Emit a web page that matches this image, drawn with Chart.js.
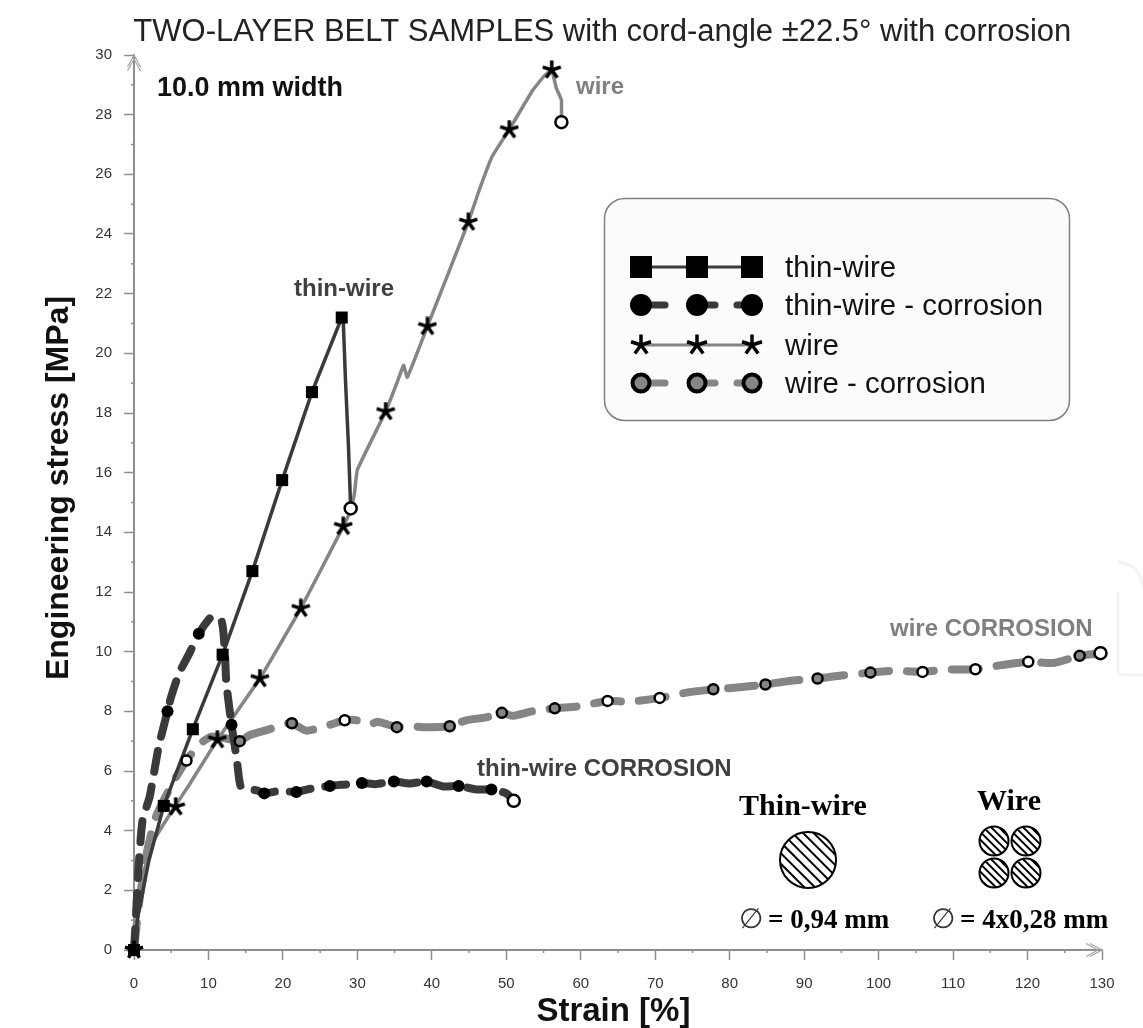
<!DOCTYPE html>
<html>
<head>
<meta charset="utf-8">
<title>Two-layer belt samples</title>
<script src="https://cdn.jsdelivr.net/npm/chart.js@4/dist/chart.umd.min.js"></script>
<style>
  html, body { margin: 0; padding: 0; background: #fff; }
  canvas { display: block; }
</style>
</head>
<body>
<canvas id="chart" width="1143" height="1028"></canvas>
<script>
// curves: strain [%] / stress [MPa]
const thinWireX = [0, 0.5, 2, 4, 7.9, 11.9, 15.9, 19.9, 23.9, 27.9, 28.1, 28.4, 28.8, 29.1];
const thinWireY = [0, 1.1, 3, 4.83, 7.4, 9.9, 12.7, 15.75, 18.7, 21.2, 21.1, 19.1, 16.9, 14.8];
const thinWireMarkX = [0, 4, 7.9, 11.9, 15.9, 19.9, 23.9, 27.9];
const thinWireMarkY = [0, 4.83, 7.4, 9.9, 12.7, 15.75, 18.7, 21.2];

const thinCorrX = [0, 0.2, 0.6, 1.15, 2.1, 3.3, 4.5, 5, 6.1, 7.45, 8.7, 10.1, 10.8, 11.8, 12.2, 12.4, 13.1, 13.8, 14.3, 15.2, 16.5, 17.5, 19.5, 21.8, 24, 26.3, 28.5, 30.6, 32.5, 34.9, 37, 39.3, 41.5, 43.6, 46, 48, 50, 51];
const thinCorrY = [0, 0.85, 2.7, 4.35, 5.13, 6.8, 8, 8.5, 9.3, 9.95, 10.6, 11.1, 11.2, 11, 10, 8.95, 7.55, 6.4, 5.5, 5.4, 5.35, 5.25, 5.33, 5.3, 5.42, 5.5, 5.55, 5.6, 5.56, 5.65, 5.58, 5.65, 5.48, 5.5, 5.38, 5.38, 5.25, 5];
const thinCorrMarkX = [0, 4.5, 8.7, 13.1, 17.5, 21.8, 26.3, 30.6, 34.9, 39.3, 43.6, 48];
const thinCorrMarkY = [0, 8, 10.6, 7.55, 5.25, 5.3, 5.5, 5.6, 5.65, 5.65, 5.5, 5.38];

const wireX = [0, 1.15, 2.5, 5.2, 7.45, 11.2, 16.9, 22.4, 28.1, 29.1, 29.6, 30, 33.8, 35.3, 36.2, 36.7, 39.4, 44.9, 46.4, 48.1, 50.4, 53.5, 55.1, 56.1, 56.7, 57.4, 57.4];
const wireY = [0, 2.45, 3.6, 4.7, 5.55, 7.05, 9.1, 11.45, 14.2, 14.75, 15.3, 16.1, 18.05, 19, 19.6, 19.2, 20.9, 24.4, 25.5, 26.6, 27.5, 28.8, 29.3, 29.5, 28.9, 28.5, 27.75];
const wireMarkX = [0, 5.6, 11.2, 16.9, 22.4, 28.1, 33.8, 39.4, 44.9, 50.4, 56.1];
const wireMarkY = [0, 4.8, 7.05, 9.1, 11.45, 14.2, 18.05, 20.9, 24.4, 27.5, 29.5];

const wireCorrX = [0, 0.75, 1.8, 3, 5.2, 7.05, 8.8, 10.4, 12.2, 14.2, 15.5, 17.8, 20, 21.2, 23.2, 26.3, 28.3, 29.9, 31.6, 32.7, 35.3, 37.3, 39, 42.4, 44.6, 47.3, 49.4, 50.8, 53.5, 56.5, 60, 63.6, 66.5, 70.6, 74, 77.8, 81, 84.8, 88, 91.8, 95, 98.9, 102, 105.9, 109, 113, 116.5, 120.1, 123.5, 127, 129.8];
const wireCorrY = [0, 1.7, 3.35, 4.5, 5.6, 6.35, 6.9, 7.15, 7.1, 7, 7.2, 7.37, 7.55, 7.6, 7.35, 7.55, 7.7, 7.7, 7.55, 7.65, 7.47, 7.5, 7.47, 7.5, 7.7, 7.8, 7.95, 7.85, 8, 8.1, 8.18, 8.35, 8.32, 8.45, 8.62, 8.74, 8.8, 8.9, 9.02, 9.1, 9.2, 9.3, 9.36, 9.32, 9.4, 9.41, 9.55, 9.66, 9.62, 9.86, 9.95];
const wireCorrMarkX = [0, 7.05, 14.2, 21.2, 28.3, 35.3, 42.4, 49.4, 56.5, 63.6, 70.6, 77.8, 84.8, 91.8, 98.9, 105.9, 113, 120.1, 127];
const wireCorrMarkY = [0, 6.35, 7, 7.6, 7.7, 7.47, 7.5, 7.95, 8.1, 8.35, 8.45, 8.74, 8.9, 9.1, 9.3, 9.32, 9.41, 9.66, 9.86];
const wireCorrOpenAt = [7.05, 28.3, 63.6, 70.6, 105.9, 113, 120.1];

// where each specimen broke (open circles)
const breakX = [29.1, 51, 57.4, 129.8];
const breakY = [14.8, 5, 27.75, 9.95];

const legendLabels = ['thin-wire', 'thin-wire - corrosion', 'wire', 'wire - corrosion'];

const zip = (xs, ys) => xs.map((x, i) => ({ x: x, y: ys[i] }));

const DARK = '#3a3a3a';
const GREY = '#858585';
const AXIS = '#8e8e8e';
const SANS = '"Liberation Sans", Arial, sans-serif';
const SERIF = '"Liberation Serif", "Times New Roman", serif';

// five armed asterisk, chart.js 'star' has eight arms
function asterisk(size, lw) {
    const c = document.createElement('canvas');
    c.width = c.height = size;
    const g = c.getContext('2d');
    g.translate(size / 2, size / 2);
    g.strokeStyle = '#000';
    g.lineWidth = lw;
    g.lineCap = 'butt';
    for (let i = 0; i < 5; i++) {
        const a = -Math.PI / 2 + i * 2 * Math.PI / 5;
        g.beginPath();
        g.moveTo(0, 0);
        g.lineTo(Math.cos(a) * (size / 2 - 0.5), Math.sin(a) * (size / 2 - 0.5));
        g.stroke();
    }
    return c;
}

function text(ctx, str, x, y, font, color, align) {
    ctx.font = font;
    ctx.fillStyle = color;
    ctx.textAlign = align || 'left';
    ctx.textBaseline = 'middle';
    ctx.fillText(str, x, y);
}

function hatchedCircle(ctx, cx, cy, r, gap) {
    ctx.save();
    ctx.beginPath();
    ctx.arc(cx, cy, r, 0, Math.PI * 2);
    ctx.clip();
    ctx.strokeStyle = '#000';
    ctx.lineWidth = 2;
    for (let d = -r * 1.5; d <= r * 1.5; d += gap / Math.SQRT2) {
        ctx.beginPath();
        ctx.moveTo(cx - r * 1.2 + d, cy - r * 1.2 - d);
        ctx.lineTo(cx + r * 1.2 + d, cy + r * 1.2 - d);
        ctx.stroke();
    }
    ctx.restore();
    ctx.beginPath();
    ctx.arc(cx, cy, r, 0, Math.PI * 2);
    ctx.strokeStyle = '#000';
    ctx.lineWidth = 2;
    ctx.stroke();
}

function legendRow(ctx, y, kind, label) {
    const xs = [641, 697, 752];
    ctx.lineCap = 'round';
    if (kind === 0 || kind === 2) {
        ctx.strokeStyle = kind === 0 ? DARK : GREY;
        ctx.lineWidth = 3;
        ctx.beginPath();
        ctx.moveTo(xs[0], y);
        ctx.lineTo(xs[2], y);
        ctx.stroke();
    } else {
        ctx.strokeStyle = kind === 1 ? DARK : GREY;
        ctx.lineWidth = 7;
        [[641, 665], [697, 715], [737, 752]].forEach(s => {
            ctx.beginPath();
            ctx.moveTo(s[0], y);
            ctx.lineTo(s[1], y);
            ctx.stroke();
        });
    }
    xs.forEach(x => {
        if (kind === 0) {
            ctx.fillStyle = '#000';
            ctx.fillRect(x - 11, y - 11, 22, 22);
        } else if (kind === 1) {
            ctx.fillStyle = '#000';
            ctx.beginPath();
            ctx.arc(x, y, 11, 0, Math.PI * 2);
            ctx.fill();
        } else if (kind === 2) {
            ctx.drawImage(legendStar, x - 11, y - 11);
        } else {
            ctx.fillStyle = GREY;
            ctx.strokeStyle = '#000';
            ctx.lineWidth = 4;
            ctx.beginPath();
            ctx.arc(x, y, 8.5, 0, Math.PI * 2);
            ctx.fill();
            ctx.stroke();
        }
    });
    text(ctx, label, 785, y + 1.5, '29.4px ' + SANS, '#111');
}

const chartStar = asterisk(20, 3.5);
const legendStar = asterisk(22, 3.5);

const decorations = {
    id: 'decorations',
    beforeDatasetsDraw(chart) {
        const ctx = chart.ctx;
        const sx = chart.scales.x;
        const sy = chart.scales.y;
        ctx.save();

        // minor ticks, chart.js only has one tick length
        ctx.strokeStyle = AXIS;
        ctx.lineWidth = 1.5;
        for (let v = 5; v < 130; v += 10) {
            const px = sx.getPixelForValue(v);
            ctx.beginPath();
            ctx.moveTo(px, sy.bottom);
            ctx.lineTo(px, sy.bottom + 3);
            ctx.stroke();
        }
        for (let v = 1; v < 30; v += 2) {
            const py = sy.getPixelForValue(v);
            ctx.beginPath();
            ctx.moveTo(sx.left, py);
            ctx.lineTo(sx.left - 3, py);
            ctx.stroke();
        }

        // axis arrow heads
        ctx.lineWidth = 1.2;
        ctx.strokeStyle = '#a5a5a5';
        [0, 4].forEach(d => {
            ctx.beginPath();
            ctx.moveTo(sx.left - 6.5, sy.top + 12 + d);
            ctx.lineTo(sx.left, sy.top + d);
            ctx.lineTo(sx.left + 6.5, sy.top + 12 + d);
            ctx.stroke();
            ctx.beginPath();
            ctx.moveTo(sx.right - 12 - d, sy.bottom - 6.5);
            ctx.lineTo(sx.right - d, sy.bottom);
            ctx.lineTo(sx.right - 12 - d, sy.bottom + 6.5);
            ctx.stroke();
        });

        // faint mark cut off at the right edge of the page
        ctx.strokeStyle = '#f3f3f3';
        ctx.lineWidth = 3;
        ctx.beginPath();
        ctx.moveTo(1143, 588);
        ctx.quadraticCurveTo(1141, 564, 1118, 562);
        ctx.stroke();
        ctx.beginPath();
        ctx.moveTo(1118, 592);
        ctx.lineTo(1118, 670);
        ctx.quadraticCurveTo(1118, 675, 1124, 675);
        ctx.lineTo(1143, 675);
        ctx.stroke();
        ctx.restore();
    },
    afterDatasetsDraw(chart) {
        const ctx = chart.ctx;
        ctx.save();

        // y axis title sits above the middle of the axis in the original
        ctx.save();
        ctx.translate(59, 488);
        ctx.rotate(-Math.PI / 2);
        text(ctx, 'Engineering stress [MPa]', 0, 0, 'bold 32px ' + SANS, '#111', 'center');
        ctx.restore();

        text(ctx, '10.0 mm width', 157, 89, 'bold 27px ' + SANS, '#111');
        text(ctx, 'wire', 576, 87, 'bold 24px ' + SANS, '#808080');
        text(ctx, 'thin-wire', 294, 289, 'bold 24px ' + SANS, '#404040');
        text(ctx, 'wire CORROSION', 890, 629, 'bold 24px ' + SANS, '#808080');
        text(ctx, 'thin-wire CORROSION', 477, 769, 'bold 24px ' + SANS, '#404040');

        // legend box
        ctx.beginPath();
        ctx.roundRect(604.5, 198.5, 465, 222, 20);
        ctx.fillStyle = '#fbfbfb';
        ctx.fill();
        ctx.strokeStyle = '#808080';
        ctx.lineWidth = 1.5;
        ctx.stroke();
        [267, 305, 345, 383].forEach((y, i) => legendRow(ctx, y, i, legendLabels[i]));

        // cross sections of the cords
        text(ctx, 'Thin-wire', 803, 807, 'bold 30px ' + SERIF, '#000', 'center');
        text(ctx, 'Wire', 1009, 802, 'bold 30px ' + SERIF, '#000', 'center');
        hatchedCircle(ctx, 808, 860, 28, 7.5);
        [[994, 841], [1026, 841], [994, 873], [1026, 873]].forEach(c => hatchedCircle(ctx, c[0], c[1], 14.5, 5.5));
        text(ctx, '\u2205', 739, 921, '28px ' + SERIF, '#333');
        text(ctx, '= 0,94 mm', 768, 921, 'bold 27px ' + SERIF, '#000');
        text(ctx, '\u2205', 931, 921, '28px ' + SERIF, '#333');
        text(ctx, '= 4x0,28 mm', 960, 921, 'bold 27px ' + SERIF, '#000');
        ctx.restore();
    }
};

new Chart(document.getElementById('chart'), {
    type: 'scatter',
    plugins: [decorations],
    data: {
        datasets: [
            { label: 'wire - corrosion curve', data: zip(wireCorrX, wireCorrY), showLine: true, borderColor: GREY, borderWidth: 8, borderDash: [27, 18], borderCapStyle: 'round', borderJoinStyle: 'round', tension: 0.2, pointRadius: 0, order: 6, clip: false },
            { label: 'thin-wire - corrosion curve', data: zip(thinCorrX, thinCorrY), showLine: true, borderColor: DARK, borderWidth: 8, borderDash: [21, 15], borderCapStyle: 'round', borderJoinStyle: 'round', tension: 0.2, pointRadius: 0, order: 5, clip: false },
            { label: 'wire curve', data: zip(wireX, wireY), showLine: true, borderColor: GREY, borderWidth: 3.5, tension: 0.1, pointRadius: 0, order: 5, clip: false },
            { label: 'thin-wire curve', data: zip(thinWireX, thinWireY), showLine: true, borderColor: DARK, borderWidth: 3.5, tension: 0, pointRadius: 0, order: 4, clip: false },
            {
                label: 'wire - corrosion', data: zip(wireCorrMarkX, wireCorrMarkY), pointStyle: 'circle', pointRadius: 5,
                pointBackgroundColor: c => wireCorrOpenAt.includes(wireCorrMarkX[c.dataIndex]) ? '#fff' : GREY,
                pointBorderColor: '#000', pointBorderWidth: 2.5, order: 3, clip: false
            },
            { label: 'thin-wire - corrosion', data: zip(thinCorrMarkX, thinCorrMarkY), pointStyle: 'circle', pointRadius: 6, pointBackgroundColor: '#000', pointBorderWidth: 0, order: 3, clip: false },
            { label: 'thin-wire', data: zip(thinWireMarkX, thinWireMarkY), pointStyle: 'rect', pointRadius: 8.5, pointBackgroundColor: '#000', pointBorderWidth: 0, order: 2, clip: false },
            { label: 'wire', data: zip(wireMarkX, wireMarkY), pointStyle: chartStar, order: 2, clip: false },
            { label: 'break', data: zip(breakX, breakY), pointStyle: 'circle', pointRadius: 6, pointBackgroundColor: '#fff', pointBorderColor: '#000', pointBorderWidth: 2.5, order: 1, clip: false }
        ]
    },
    options: {
        responsive: false,
        animation: false,
        // left padding + y scale width keep the plot at 134px, tick labels get clipped if the scale is narrower
        layout: { padding: { left: 94, right: 41, top: 0, bottom: 0 } },
        plugins: {
            legend: { display: false },
            tooltip: { enabled: false },
            title: {
                display: true,
                // leading space nudges the centred title to where it is in the original
                text: ' TWO-LAYER BELT SAMPLES with cord-angle ±22.5° with corrosion',
                color: '#222',
                font: { family: SANS, size: 31, weight: 'normal', lineHeight: 1.2 },
                padding: { top: 14, bottom: 3.8 }
            }
        },
        scales: {
            x: {
                type: 'linear',
                min: 0,
                max: 130,
                afterFit(scale) { scale.height = 78; },
                border: { color: AXIS, width: 2 },
                grid: { drawOnChartArea: false, color: AXIS, tickColor: AXIS, tickLength: 10, tickWidth: 1.5 },
                ticks: { stepSize: 10, padding: 15, maxRotation: 0, autoSkip: false, color: '#333', font: { family: SANS, size: 15 } },
                title: { display: true, text: 'Strain [%] ', color: '#111', font: { family: SANS, size: 33, weight: 'bold', lineHeight: 1 }, padding: 0 }
            },
            y: {
                type: 'linear',
                min: 0,
                max: 30,
                afterFit(scale) { scale.width = 40; },
                border: { color: AXIS, width: 2 },
                grid: { drawOnChartArea: false, color: AXIS, tickColor: AXIS, tickLength: 10, tickWidth: 1.5 },
                ticks: { stepSize: 2, padding: 12, autoSkip: false, color: '#333', font: { family: SANS, size: 15 } }
            }
        }
    }
});
</script>
</body>
</html>
